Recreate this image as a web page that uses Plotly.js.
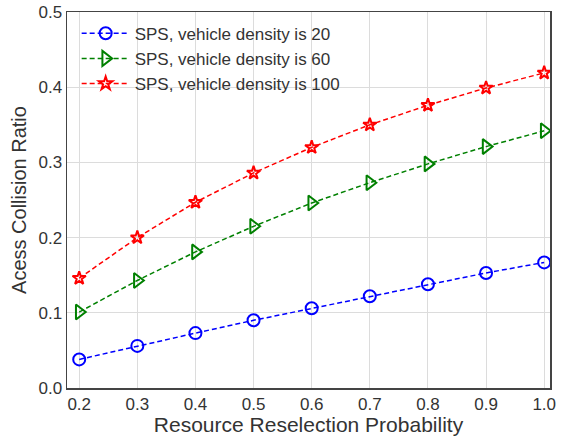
<!DOCTYPE html>
<html>
<head>
<meta charset="utf-8">
<script src="https://cdn.plot.ly/plotly-3.0.1.min.js"></script>
<style>html,body{margin:0;padding:0;background:#fff;}#chart{width:567px;height:436px;}</style>
</head>
<body>
<div id="chart"></div>
<script>
const probs = [0.2, 0.3, 0.4, 0.5, 0.6, 0.7, 0.8, 0.9, 1.0];
const density20 = [0.038, 0.056, 0.073, 0.090, 0.106, 0.122, 0.138, 0.153, 0.167];
const density60 = [0.101, 0.143, 0.181, 0.215, 0.246, 0.273, 0.298, 0.321, 0.342];
const density100 = [0.146, 0.200, 0.247, 0.286, 0.320, 0.350, 0.376, 0.399, 0.419];
const names = ['SPS, vehicle density is 20', 'SPS, vehicle density is 60', 'SPS, vehicle density is 100'];
const xTicks = [0.2, 0.3, 0.4, 0.5, 0.6, 0.7, 0.8, 0.9, 1.0];
const yTicks = [0.0, 0.1, 0.2, 0.3, 0.4, 0.5];

const mk = (y, name, color, symbol, size, group) => ({
  x: probs, y: y, name: name, type: 'scatter', mode: 'lines+markers',
  legendgroup: group,
  line: {color: color, width: 1.5, dash: '5px,3px'},
  marker: {symbol: symbol, size: size, color: color, line: {color: color, width: 2}}
});

const data = [
  mk(density20, names[0], '#0000ff', 'circle-open', 12, 'a'),
  mk(density60, names[1], '#008000', 'triangle-right-open', 13, 'b'),
  mk(density100, names[2], '#ff0000', 'star-open', 10, 'c')
];

const layout = {
  width: 567, height: 436,
  margin: {l: 67, r: 17, t: 12, b: 48},
  paper_bgcolor: '#fff', plot_bgcolor: '#fff',
  font: {family: 'Liberation Sans, Arial, sans-serif', color: '#444'},
  showlegend: true,
  legend: {x: 0.02, y: 0.99, xanchor: 'left', yanchor: 'top', bgcolor: 'rgba(255,255,255,0)',
           font: {size: 17, color: '#333'}, traceorder: 'grouped', tracegroupgap: 0, itemwidth: 48},
  xaxis: {
    range: [0.179, 1.01], tickvals: xTicks, ticktext: xTicks.map(v => v.toFixed(1)),
    showgrid: true, gridcolor: '#dcdcdc', gridwidth: 1,
    showline: true, linecolor: '#444', linewidth: 1.5, mirror: true, zeroline: false,
    ticks: '', tickfont: {size: 17, color: '#333'},
    title: {text: 'Resource Reselection Probability', font: {size: 21, color: '#333'}, standoff: 0}
  },
  yaxis: {
    range: [0, 0.5], tickvals: yTicks, ticktext: yTicks.map(v => v.toFixed(1)),
    showgrid: true, gridcolor: '#dcdcdc', gridwidth: 1,
    showline: true, linecolor: '#444', linewidth: 1.5, mirror: true, zeroline: false,
    ticks: '', tickfont: {size: 17, color: '#333'},
    title: {text: 'Acess Collision Ratio', font: {size: 20, color: '#333'}, standoff: 6}
  }
};

Plotly.newPlot('chart', data, layout, {displayModeBar: false, staticPlot: true});
</script>
</body>
</html>
